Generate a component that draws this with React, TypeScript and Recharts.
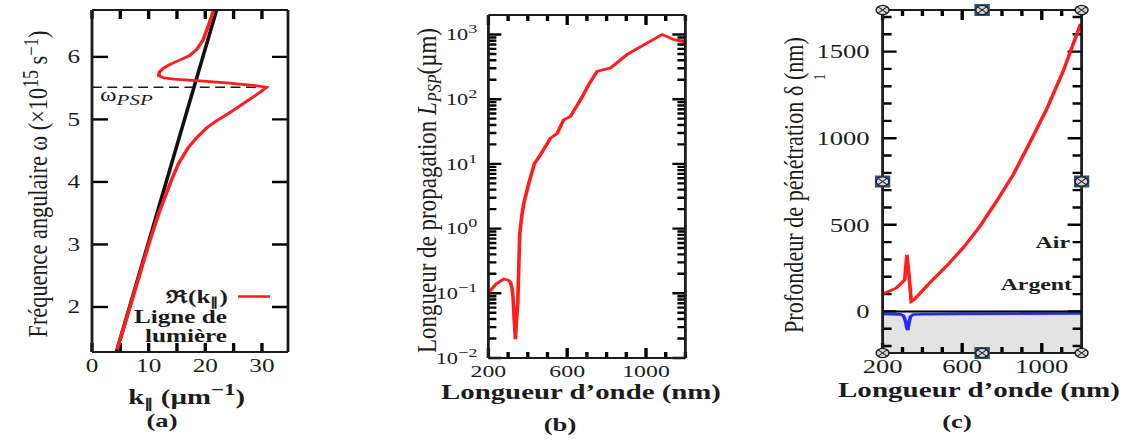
import React from 'react'
import {
  ComposedChart, Line, XAxis, YAxis, ReferenceLine, ReferenceArea, ReferenceDot,
} from 'recharts'

// the source figure is stretched horizontally, so everything is drawn narrow and scaled back
const S = 1.4
const sx = (v: number) => v / S
const FONT = '"Liberation Serif", "Times New Roman", serif'
const INK = '#1c1c1c'
const RED = '#ff1d1d'
const BLUE = '#1f2cff'

// (a) dispersion relation
const LIGHT_K = [4.3, 22.0]
const LIGHT_W = [1.28, 6.75]
const SPP_K = [4.45, 6.7, 10.0, 11.8, 13.9, 15.3, 17.0, 18.6, 20.2, 22.0, 23.8, 25.7, 27.3, 28.8, 29.9, 30.8, 28.5, 26.0, 24.3, 18.5, 14.5, 12.6, 11.8, 11.9, 12.6, 13.8, 15.5, 17.2, 18.5, 19.6, 20.5, 21.3, 21.5]
const SPP_W = [1.32, 2.0, 3.0, 3.5, 4.0, 4.3, 4.55, 4.72, 4.86, 4.98, 5.08, 5.19, 5.29, 5.38, 5.45, 5.515, 5.545, 5.565, 5.58, 5.62, 5.645, 5.665, 5.7, 5.76, 5.82, 5.88, 5.95, 6.02, 6.12, 6.27, 6.49, 6.7, 6.78]
const W_PSP = 5.515
const A_K_TICKS = [0, 5, 10, 15, 20, 25, 30]
const A_W_TICKS = [2, 3, 4, 5, 6]

// (b) propagation length
const B_LAMBDA = [200, 240, 278, 300, 312, 320, 325, 331, 337, 343, 349, 359, 371, 379, 405, 434, 464, 515, 549, 582, 616, 667, 709, 752, 819, 904, 1006, 1082, 1141, 1200]
const B_LPSP = [0.102, 0.14, 0.166, 0.16, 0.148, 0.12, 0.087, 0.04, 0.0195, 0.04, 0.069, 0.83, 1.7, 2.4, 5.0, 10.2, 13.8, 25, 29.5, 48, 54, 97, 167, 270, 303, 490, 740, 1000, 836, 760]
const B_DECADES = [0.01, 0.1, 1, 10, 100, 1000]
const B_Y_TICKS = B_DECADES.flatMap(d => (d < 1000 ? [d, 2 * d, 3 * d, 4 * d, 5 * d, 6 * d, 7 * d, 8 * d, 9 * d] : [d]))
const L_TICKS = [200, 300, 400, 500, 600, 700, 800, 900, 1000, 1100, 1200]
const L_LABELS = [200, 600, 1000]

// (c) penetration depth
const AIR_LAMBDA = [200, 269, 311, 322, 332, 344, 360, 436, 520, 604, 688, 772, 856, 939, 1023, 1107, 1195]
const AIR_DELTA = [100, 135, 183, 327, 221, 58, 70, 164, 260, 366, 490, 635, 789, 972, 1164, 1385, 1660]
const AG_LAMBDA = [200, 290, 305, 315, 322, 327, 332, 340, 355, 400, 600, 900, 1200]
const AG_DELTA = [-14, -17, -25, -55, -95, -108, -70, -30, -18, -16, -14, -13, -12]
const C_Y_TICKS = [-200, -100, 0, 100, 200, 300, 400, 500, 600, 700, 800, 900, 1000, 1100, 1200, 1300, 1400, 1500, 1600, 1700]
const C_Y_LABELS = [0, 500, 1000, 1500]
const C_X_DOMAIN = [200, 1200]
const C_Y_DOMAIN = [-240, 1740]

const pairs = (xs: number[], ys: number[]) => xs.map((x, i) => ({ x, y: ys[i] }))

// tick labels only; the tick marks are drawn as reference segments
const makeLabel = (side: 'left' | 'bottom', label: (v: number) => React.ReactNode, gap: number, fontSize: number) => (props: any) => {
  const { x, y, payload } = props
  const lab = label(payload.value)
  if (lab == null || lab === '') return <g />
  return side === 'left'
    ? <text x={x - gap} y={y} dy="0.36em" textAnchor="end" fontSize={fontSize} fill={INK} fontFamily={FONT}>{lab}</text>
    : <text x={x} y={y + gap} textAnchor="middle" fontSize={fontSize} fill={INK} fontFamily={FONT}>{lab}</text>
}
const noLabel = () => <g />

// axes get a 1px box (recharts skips zero-sized axes); margins are reduced by 1 to compensate
const axisBase = {
  type: 'number' as const,
  allowDataOverflow: true,
  tickSize: 0,
  tickMargin: 0,
  tickLine: false,
  interval: 0 as const,
  axisLine: { stroke: INK, strokeWidth: 2 },
}

interface TickMarks {
  xd: number[]; yd: number[]; W: number; H: number; yLog?: boolean
  xTicks: number[]; yTicks: number[]
  xLen: (v: number) => number; yLen: (v: number) => number
}

// inward ticks on all four sides; pixel lengths converted through the axis ranges
function tickMarks(m: TickMarks) {
  const [x0, x1] = m.xd
  const [y0, y1] = m.yd
  const dx = (px: number) => (px * (x1 - x0)) / m.W
  const up = (y: number, px: number) => (m.yLog ? y * Math.pow(y1 / y0, px / m.H) : y + (px * (y1 - y0)) / m.H)
  const down = (y: number, px: number) => (m.yLog ? y / Math.pow(y1 / y0, px / m.H) : y - (px * (y1 - y0)) / m.H)
  const seg = { stroke: '#000', strokeWidth: 2.4, ifOverflow: 'visible' as const }
  const out: React.ReactNode[] = []
  m.xTicks.forEach(v => {
    const n = m.xLen(v)
    out.push(<ReferenceLine key={`xb${v}`} {...seg} segment={[{ x: v, y: y0 }, { x: v, y: up(y0, n) }]} />)
    out.push(<ReferenceLine key={`xt${v}`} {...seg} segment={[{ x: v, y: y1 }, { x: v, y: down(y1, n) }]} />)
  })
  m.yTicks.forEach(v => {
    const n = dx(m.yLen(v))
    out.push(<ReferenceLine key={`yl${v}`} {...seg} segment={[{ x: x0, y: v }, { x: x0 + n, y: v }]} />)
    out.push(<ReferenceLine key={`yr${v}`} {...seg} segment={[{ x: x1, y: v }, { x: x1 - n, y: v }]} />)
  })
  return out
}

const Handle = (mid: boolean) => (p: any) => (
  <g>
    {mid && <rect x={p.cx - 5.5} y={p.cy - 6} width={11} height={12} fill="#2d4f86" />}
    <circle cx={p.cx} cy={p.cy} r={4.6} fill="#d6d6d6" stroke="#222" strokeWidth={1.1} />
    <path d={`M${p.cx - 3} ${p.cy - 3}L${p.cx + 3} ${p.cy + 3}M${p.cx + 3} ${p.cy - 3}L${p.cx - 3} ${p.cy + 3}`} stroke="#222" strokeWidth={1} />
  </g>
)

const box = (top: number, right: number, bottom: number, left: number) =>
  ({ top: top - 1, right: right - 1, bottom: bottom - 1, left: left - 1 })

function PanelA() {
  const xd = [0, 34.6]
  const yd = [1.28, 6.75]
  return (
    <ComposedChart width={sx(310)} height={441} margin={box(10, sx(22), 89, sx(92))}>
      <XAxis {...axisBase} dataKey="x" domain={xd} height={1} ticks={A_K_TICKS}
        tick={makeLabel('bottom', v => (v % 10 === 0 ? v : ''), 20, 18)} />
      <XAxis {...axisBase} xAxisId="t" orientation="top" domain={xd} height={1} ticks={A_K_TICKS} tick={noLabel} />
      <YAxis {...axisBase} dataKey="y" domain={yd} width={1} ticks={A_W_TICKS}
        tick={makeLabel('left', v => v, sx(12), 18)} />
      <YAxis {...axisBase} yAxisId="r" orientation="right" domain={yd} width={1} ticks={A_W_TICKS} tick={noLabel} />
      {tickMarks({ xd, yd, W: sx(196), H: 342, xTicks: A_K_TICKS, yTicks: A_W_TICKS, xLen: () => 9, yLen: () => sx(16) })}
      <ReferenceLine segment={[{ x: 0, y: W_PSP }, { x: 30.8, y: W_PSP }]} stroke={INK} strokeWidth={1.6} strokeDasharray="7 4" />
      <Line data={pairs(LIGHT_K, LIGHT_W)} dataKey="y" stroke="#111" strokeWidth={2.6} dot={false} isAnimationActive={false} />
      <Line data={pairs(SPP_K, SPP_W)} dataKey="y" stroke={RED} strokeWidth={2.6} dot={false} isAnimationActive={false} />
    </ComposedChart>
  )
}

const expLabel = (v: number) => {
  if (!B_DECADES.includes(v)) return ''
  const e = Math.round(Math.log10(v))
  return (<>10<tspan dy={-7} fontSize={13}>{e < 0 ? `−${-e}` : e}</tspan></>)
}

function PanelB() {
  const xd = [200, 1200]
  const yd = [0.01, 2000]
  return (
    <ComposedChart width={sx(310)} height={441} margin={box(15, sx(25), 83, sx(88))}>
      <XAxis {...axisBase} dataKey="x" domain={xd} height={1} ticks={L_TICKS}
        tick={makeLabel('bottom', v => (L_LABELS.includes(v) ? v : ''), 19, 17)} />
      <XAxis {...axisBase} xAxisId="t" orientation="top" domain={xd} height={1} ticks={L_TICKS} tick={noLabel} />
      <YAxis {...axisBase} dataKey="y" scale="log" domain={yd} width={1} ticks={B_DECADES}
        tick={makeLabel('left', expLabel, sx(11), 16)} />
      <YAxis {...axisBase} yAxisId="r" orientation="right" scale="log" domain={yd} width={1} ticks={B_DECADES} tick={noLabel} />
      {tickMarks({
        xd, yd, W: sx(197), H: 343, yLog: true, xTicks: L_TICKS, yTicks: B_Y_TICKS,
        xLen: v => (L_LABELS.includes(v) ? 10 : 6), yLen: v => (B_DECADES.includes(v) ? sx(13) : sx(8)),
      })}
      <Line data={pairs(B_LAMBDA, B_LPSP)} dataKey="y" stroke={RED} strokeWidth={2.6} dot={false} isAnimationActive={false} />
    </ComposedChart>
  )
}

function PanelC() {
  const [x0, x1] = C_X_DOMAIN
  const [y0, y1] = C_Y_DOMAIN
  const xm = (x0 + x1) / 2
  const ym = (y0 + y1) / 2
  return (
    <ComposedChart width={sx(341)} height={441} margin={box(10, sx(49), 88, sx(93))}>
      <XAxis {...axisBase} dataKey="x" domain={C_X_DOMAIN} height={1} ticks={L_TICKS}
        tick={makeLabel('bottom', v => (L_LABELS.includes(v) ? v : ''), 20, 19)} />
      <XAxis {...axisBase} xAxisId="t" orientation="top" domain={C_X_DOMAIN} height={1} ticks={L_TICKS} tick={noLabel} />
      <YAxis {...axisBase} dataKey="y" domain={C_Y_DOMAIN} width={1} ticks={C_Y_TICKS}
        tick={makeLabel('left', v => (C_Y_LABELS.includes(v) ? v : ''), sx(13), 19)} />
      <YAxis {...axisBase} yAxisId="r" orientation="right" domain={C_Y_DOMAIN} width={1} ticks={C_Y_TICKS} tick={noLabel} />
      <ReferenceArea x1={x0} x2={x1} y1={y0} y2={0} fill="#e3e3e3" fillOpacity={1} stroke="none" />
      {tickMarks({
        xd: C_X_DOMAIN, yd: C_Y_DOMAIN, W: sx(199), H: 343, xTicks: L_TICKS, yTicks: C_Y_TICKS,
        xLen: v => (L_LABELS.includes(v) ? 10 : 6), yLen: v => (v % 500 === 0 ? sx(14) : sx(9)),
      })}
      <Line data={pairs(AG_LAMBDA, AG_DELTA)} dataKey="y" stroke={BLUE} strokeWidth={2.6} dot={false} isAnimationActive={false} />
      <ReferenceLine y={0} stroke="#000" strokeWidth={2} />
      <Line data={pairs(AIR_LAMBDA, AIR_DELTA)} dataKey="y" stroke={RED} strokeWidth={2.6} dot={false} isAnimationActive={false} />
      {[[x0, y1, false], [xm, y1, true], [x1, y1, false], [x0, ym, true], [x1, ym, true], [x0, y0, false], [xm, y0, true], [x1, y0, false]].map(([hx, hy, mid], i) => (
        <ReferenceDot key={i} x={hx as number} y={hy as number} r={5} ifOverflow="visible" shape={Handle(mid as boolean)} />
      ))}
    </ComposedChart>
  )
}

function Labels() {
  const t = { fill: INK, fontFamily: FONT }
  return (
    <svg width={sx(1131)} height={441} style={{ position: 'absolute', left: 0, top: 0, pointerEvents: 'none' }}>
      {/* (a) */}
      <text {...t} transform={`translate(${sx(37.5)},184) rotate(-90)`} textAnchor="middle" dy="0.35em" fontSize={20}
        textLength={307} lengthAdjust="spacingAndGlyphs">
        Fréquence angulaire ω (×10<tspan dy={-7} fontSize={16}>15</tspan><tspan dy={7}> s</tspan><tspan dy={-7} fontSize={15}>−1</tspan><tspan dy={7}>)</tspan>
      </text>
      <text {...t} x={sx(186.7)} y={404} textAnchor="middle" fontSize={20} fontWeight="bold" textLength={sx(117)} lengthAdjust="spacingAndGlyphs">
        k<tspan dy={4} fontSize={13}>∥</tspan><tspan dy={-4}> (µm</tspan><tspan dy={-9} fontSize={16}>−1</tspan><tspan dy={9}>)</tspan>
      </text>
      <text {...t} x={sx(162)} y={427} textAnchor="middle" fontSize={19} fontWeight="bold">(a)</text>
      <text {...t} x={sx(100)} y={101} fontSize={18}>ω<tspan dy={4} fontSize={15} fontStyle="italic">PSP</tspan></text>
      <text {...t} x={sx(228)} y={303} textAnchor="end" fontSize={18} fontWeight="bold">ℜ(k<tspan dy={3} fontSize={12}>∥</tspan><tspan dy={-3}>)</tspan></text>
      <line x1={sx(238)} x2={sx(270)} y1={296.5} y2={296.5} stroke={RED} strokeWidth={2.6} />
      <text {...t} x={sx(227)} y={323} textAnchor="end" fontSize={18} fontWeight="bold">Ligne de</text>
      <text {...t} x={sx(227)} y={342} textAnchor="end" fontSize={18} fontWeight="bold">lumière</text>

      {/* (b) */}
      <text {...t} transform={`translate(${sx(426)},190.5) rotate(-90)`} textAnchor="middle" dy="0.35em" fontSize={20}
        textLength={325} lengthAdjust="spacingAndGlyphs">
        Longueur de propagation <tspan fontStyle="italic">L</tspan><tspan dy={4} fontSize={14} fontStyle="italic">PSP</tspan><tspan dy={-4}>(µm)</tspan>
      </text>
      <text {...t} x={sx(581)} y={399} textAnchor="middle" fontSize={20} fontWeight="bold" textLength={sx(280)} lengthAdjust="spacingAndGlyphs">Longueur d’onde (nm)</text>
      <text {...t} x={sx(560)} y={431} textAnchor="middle" fontSize={19} fontWeight="bold">(b)</text>

      {/* (c) */}
      <text {...t} transform={`translate(${sx(793)},185) rotate(-90)`} textAnchor="middle" dy="0.35em" fontSize={20}
        textLength={296} lengthAdjust="spacingAndGlyphs">
        Profondeur de pénétration δ (nm)
      </text>
      <text {...t} transform={`translate(${sx(819)},77) rotate(-90)`} textAnchor="middle" dy="0.35em" fontSize={12}>1</text>
      <text {...t} x={sx(979)} y={397} textAnchor="middle" fontSize={20} fontWeight="bold" textLength={sx(282)} lengthAdjust="spacingAndGlyphs">Longueur d’onde (nm)</text>
      <text {...t} x={sx(957)} y={428} textAnchor="middle" fontSize={19} fontWeight="bold">(c)</text>
      <text {...t} x={sx(1070)} y={248} textAnchor="end" fontSize={17} fontWeight="bold">Air</text>
      <text {...t} x={sx(1072)} y={290} textAnchor="end" fontSize={17} fontWeight="bold">Argent</text>
    </svg>
  )
}

export default function App() {
  return (
    <div style={{
      position: 'absolute', left: 0, top: 0, width: sx(1131), height: 441, background: '#fff',
      transform: `scaleX(${S})`, transformOrigin: '0 0', fontFamily: FONT,
    }}>
      <div style={{ position: 'absolute', left: 0, top: 0 }}><PanelA /></div>
      <div style={{ position: 'absolute', left: sx(400), top: 0 }}><PanelB /></div>
      <div style={{ position: 'absolute', left: sx(790), top: 0 }}><PanelC /></div>
      <Labels />
    </div>
  )
}
